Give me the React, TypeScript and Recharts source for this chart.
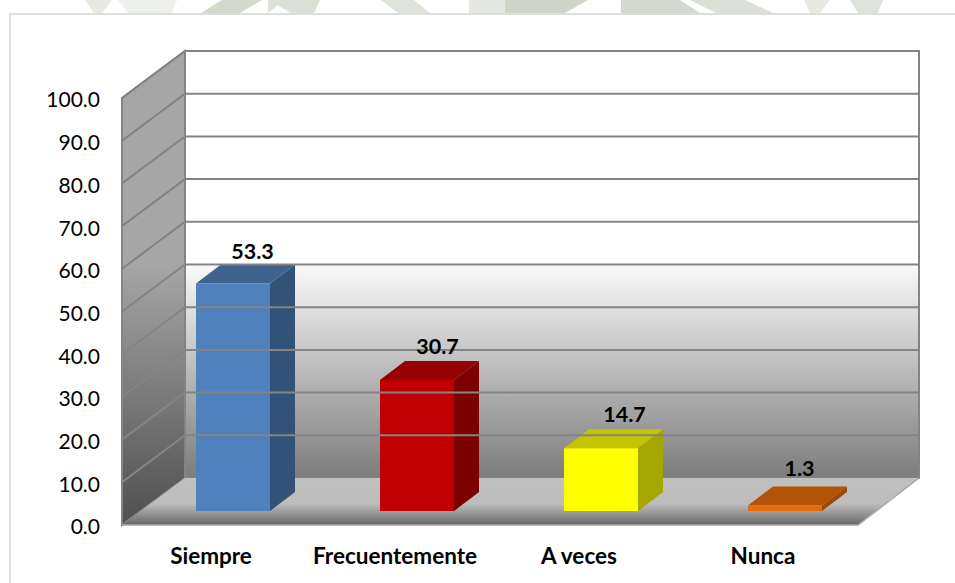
import { Bar, BarChart, Cell, LabelList, ReferenceArea, ReferenceLine, XAxis, YAxis } from 'recharts';

const categories = ['Siempre', 'Frecuentemente', 'A veces', 'Nunca'];
const values = [53.3, 30.7, 14.7, 1.3];
const yTicks = [0, 10, 20, 30, 40, 50, 60, 70, 80, 90, 100];

const frontColors = ['#4f81bd', '#c00000', '#ffff00', '#e46c0a'];
const topColors = ['#3e638f', '#960000', '#c4c400', '#b25306'];
const sideColors = ['#335278', '#7c0000', '#a6a600', '#9c4a06'];

const labelNudgeX = [0, 1, 4, -5];
const labelNudgeY = [-38, -40, -40, -43];

const data = categories.map((name, i) => ({ name, value: values[i] }));

// depth of the fake 3D box
const WALL_DX = 63;
const WALL_DY = 47;
const BAR_INSET_DX = 19;
const BAR_INSET_DY = 14;
const BAR_DX = 25;
const BAR_DY = 19;
const EDGE = '#848484';

// faint page background showing above the chart frame
const watermark = [
  { points: '85,0 112,0 102,13 94,13', fill: '#e6eae3' },
  { points: '118,0 177,0 172,13 128,13', fill: '#eef0ec' },
  { points: '222,0 262,0 240,13 201,13', fill: '#d3dacd' },
  { points: '268,0 320,0 314,13 290,13 278,5 268,13', fill: '#dbe1d6' },
  { points: '381,0 414,0 430,13 398,13', fill: '#dfe4da' },
  { points: '469,0 505,0 505,13 469,13', fill: '#e6e9e3' },
  { points: '505,0 588,0 565,13 505,13', fill: '#cfd6c9' },
  { points: '621,0 680,0 700,13 621,13', fill: '#d3dacd' },
  { points: '690,0 745,0 773,13 716,13', fill: '#dbe1d6' },
  { points: '804,0 830,0 820,13 810,13', fill: '#e6eae3' },
  { points: '850,0 883,0 878,13 858,13', fill: '#dfe4da' },
];

function Frame(props: any) {
  const { x, y, width, height } = props;
  const bottom = y + height;
  const right = x + width;
  const backY = bottom - WALL_DY;
  const backTop = y - WALL_DY;
  return (
    <g>
      <defs>
        <linearGradient id="backWall" x1="0" y1="0" x2="0" y2="1">
          <stop offset="0" stopColor="#ffffff" />
          <stop offset="0.5" stopColor="#ffffff" />
          <stop offset="0.505" stopColor="#f8f8f8" />
          <stop offset="1" stopColor="#7c7c7c" />
        </linearGradient>
        <linearGradient id="sideWall" x1="0" y1="0" x2="0" y2="1">
          <stop offset="0" stopColor="#a6a6a6" />
          <stop offset="0.45" stopColor="#a6a6a6" />
          <stop offset="1" stopColor="#4f4f4f" />
        </linearGradient>
        <linearGradient id="floor" x1="0" y1="0" x2="0" y2="1">
          <stop offset="0" stopColor="#c0c0c0" />
          <stop offset="0.55" stopColor="#bdbdbd" />
          <stop offset="1" stopColor="#666666" />
        </linearGradient>
      </defs>
      {watermark.map((w) => (
        <polygon key={w.points} points={w.points} fill={w.fill} />
      ))}
      <rect x={10} y={14} width={960} height={590} fill="#ffffff" stroke="#dedede" strokeWidth={2} />
      <rect x={x + WALL_DX} y={backTop} width={width - 2} height={height} fill="url(#backWall)" stroke={EDGE} strokeWidth={2} />
      <polygon
        points={`${x},${y} ${x + WALL_DX},${backTop} ${x + WALL_DX},${backY} ${x},${bottom}`}
        fill="url(#sideWall)"
        stroke={EDGE}
        strokeWidth={2}
      />
      <polygon
        points={`${x},${bottom} ${x + WALL_DX},${backY} ${right + WALL_DX - 2},${backY} ${right},${bottom}`}
        fill="url(#floor)"
      />
      <path d={`M${x},${bottom} H${right} L${right + WALL_DX - 2},${backY}`} fill="none" stroke="#a8a8a8" strokeWidth={1.5} />
    </g>
  );
}

function GridLine(props: any) {
  const { x1, y1, x2 } = props;
  return (
    <path
      d={`M${x1},${y1} L${x1 + WALL_DX},${y1 - WALL_DY} H${x2 + WALL_DX - 2}`}
      fill="none"
      stroke={EDGE}
      strokeWidth={2}
    />
  );
}

function Bar3D(props: any) {
  const { x, y, width, height, index, fill } = props;
  const left = x + BAR_INSET_DX;
  const top = y - BAR_INSET_DY;
  const right = left + width;
  const base = top + height;
  return (
    <g>
      <polygon
        points={`${right},${top} ${right + BAR_DX},${top - BAR_DY} ${right + BAR_DX},${base - BAR_DY} ${right},${base}`}
        fill={sideColors[index]}
      />
      <polygon
        points={`${left},${top} ${left + BAR_DX},${top - BAR_DY} ${right + BAR_DX},${top - BAR_DY} ${right},${top}`}
        fill={topColors[index]}
      />
      <rect x={left} y={top} width={width} height={height} fill={fill} />
    </g>
  );
}

function BarValue(props: any) {
  const { x, y, width, value, index } = props;
  return (
    <text
      x={x + width / 2 + BAR_INSET_DX + BAR_DX / 2 + 7 + labelNudgeX[index]}
      y={y + labelNudgeY[index]}
      textAnchor="middle"
      fontFamily="Lato"
      fontSize={21.5}
      fontWeight={700}
      fill="#000000"
    >
      {value.toFixed(1)}
    </text>
  );
}

export default function App() {
  return (
    <div style={{ position: 'absolute', left: 0, top: 0, width: 955, height: 583, overflow: 'hidden' }}>
      <BarChart
        width={955}
        height={583}
        data={data}
        margin={{ top: 98, right: 97, bottom: 0, left: 0 }}
      >
        <XAxis
          dataKey="name"
          height={58}
          axisLine={false}
          tickLine={false}
          tickSize={0}
          tickMargin={23}
          interval={0}
          tick={{ fontFamily: 'Lato', fontSize: 22.5, fontWeight: 700, fill: '#000000', dx: -3 }}
        />
        <YAxis
          width={122}
          domain={[0, 100]}
          ticks={yTicks}
          interval={0}
          axisLine={false}
          tickLine={false}
          tickSize={0}
          tickMargin={22}
          tickFormatter={(v: number) => v.toFixed(1)}
          tick={{ fontFamily: 'Lato', fontSize: 21, fill: '#000000', dy: 2 }}
        />
        <ReferenceArea y1={0} y2={100} ifOverflow="visible" shape={Frame} />
        {yTicks.filter((t) => t > 0).map((t) => (
          <ReferenceLine key={t} y={t} ifOverflow="visible" shape={GridLine} />
        ))}
        <Bar dataKey="value" barSize={74} isAnimationActive={false} shape={Bar3D}>
          {data.map((d, i) => (
            <Cell key={d.name} fill={frontColors[i]} />
          ))}
          <LabelList dataKey="value" content={BarValue} />
        </Bar>
      </BarChart>
    </div>
  );
}
